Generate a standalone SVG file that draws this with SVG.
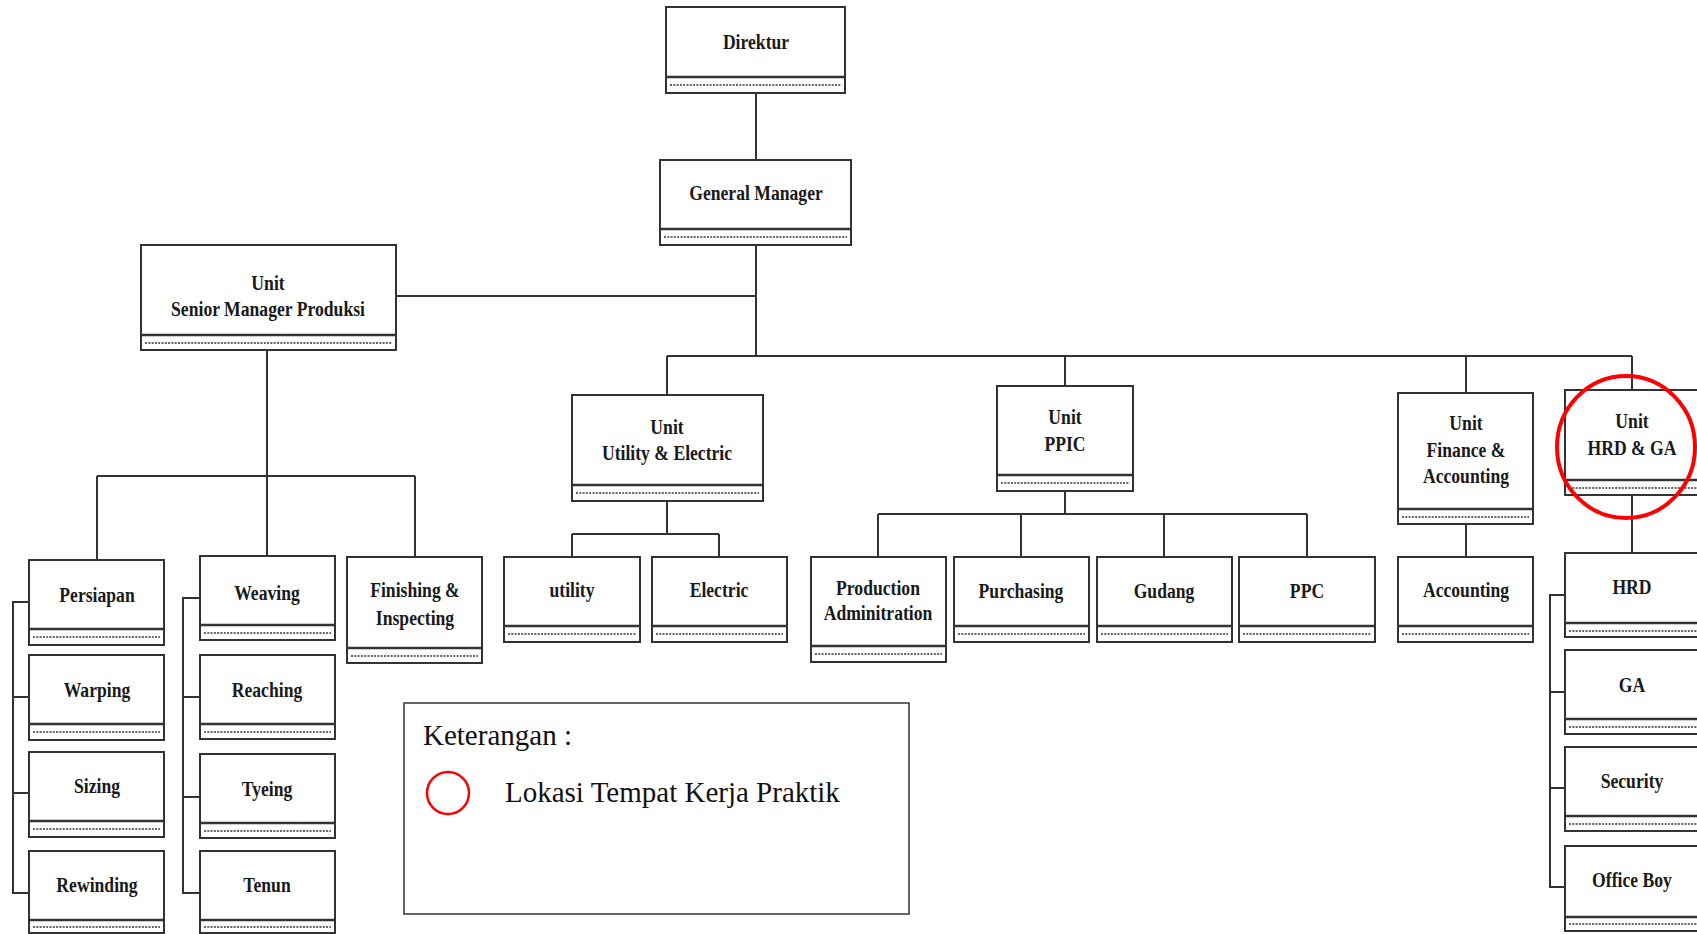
<svg xmlns="http://www.w3.org/2000/svg" width="1697" height="934" viewBox="0 0 1697 934">
<style>
.bg{fill:#fff}
.box{fill:#fff;stroke:#333;stroke-width:2}
.band{stroke:#333;stroke-width:2.5}
.dots{stroke:#666;stroke-width:1.8;stroke-dasharray:2 1.3}
.t{font-family:"Liberation Serif","Times New Roman",serif;font-weight:bold;font-size:21px;fill:#1a1a1a;text-anchor:middle}
.c{fill:none;stroke:#333;stroke-width:2}
.lg{font-family:"Liberation Serif","Times New Roman",serif;font-size:29px;fill:#111}
</style>
<rect class="bg" x="0" y="0" width="1697" height="934"/>

<g id="connectors" class="c">
<path d="M756 93V160M756 245V356M396 296H756M667 356H1632M667 356V395M1065 356V386M1466 356V393M1632 356V390"/>
<path d="M267 350V476M97 476H415M97 476V560M267 476V556M415 476V557"/>
<path d="M667 501V534M572 534H719M572 534V557M719 534V557"/>
<path d="M1065 491V514M878 514H1307M878 514V557M1021 514V557M1164 514V557M1307 514V557"/>
<path d="M1466 524V557M1632 495V553"/>
<path d="M29 602H13V893H29M13 697H29M13 793H29"/>
<path d="M200 598H183V893H200M183 697H200M183 797H200"/>
<path d="M1565 595H1550V887H1565M1550 692H1565M1550 788H1565"/>
</g>

<g id="direktur"><rect class="box" x="666" y="7" width="179" height="86"/><line class="band" x1="666" y1="77" x2="845" y2="77"/><line class="dots" x1="670" y1="85" x2="841" y2="85"/><text class="t" transform="translate(756,49) scale(0.84,1)">Direktur</text></g>
<g id="general-manager"><rect class="box" x="660" y="160" width="191" height="85"/><line class="band" x1="660" y1="229" x2="851" y2="229"/><line class="dots" x1="664" y1="237" x2="847" y2="237"/><text class="t" transform="translate(756,200) scale(0.84,1)">General Manager</text></g>
<g id="senior-manager-produksi"><rect class="box" x="141" y="245" width="255" height="105"/><line class="band" x1="141" y1="335" x2="396" y2="335"/><line class="dots" x1="145" y1="343" x2="392" y2="343"/><text class="t" transform="translate(268,290) scale(0.84,1)">Unit</text><text class="t" transform="translate(268,316) scale(0.84,1)">Senior Manager Produksi</text></g>

<g id="utility-electric"><rect class="box" x="572" y="395" width="191" height="106"/><line class="band" x1="572" y1="485" x2="763" y2="485"/><line class="dots" x1="576" y1="493" x2="759" y2="493"/><text class="t" transform="translate(667,434) scale(0.84,1)">Unit</text><text class="t" transform="translate(667,460) scale(0.84,1)">Utility &amp; Electric</text></g>
<g id="ppic"><rect class="box" x="997" y="386" width="136" height="105"/><line class="band" x1="997" y1="475" x2="1133" y2="475"/><line class="dots" x1="1001" y1="483" x2="1129" y2="483"/><text class="t" transform="translate(1065,424) scale(0.84,1)">Unit</text><text class="t" transform="translate(1065,451) scale(0.84,1)">PPIC</text></g>
<g id="finance-accounting"><rect class="box" x="1398" y="393" width="135" height="131"/><line class="band" x1="1398" y1="509" x2="1533" y2="509"/><line class="dots" x1="1402" y1="517" x2="1529" y2="517"/><text class="t" transform="translate(1466,430) scale(0.84,1)">Unit</text><text class="t" transform="translate(1466,457) scale(0.84,1)">Finance &amp;</text><text class="t" transform="translate(1466,483) scale(0.84,1)">Accounting</text></g>
<g id="hrd-ga"><rect class="box" x="1565" y="390" width="135" height="105"/><line class="band" x1="1565" y1="480" x2="1700" y2="480"/><line class="dots" x1="1569" y1="488" x2="1697" y2="488"/><text class="t" transform="translate(1632,428) scale(0.84,1)">Unit</text><text class="t" transform="translate(1632,455) scale(0.84,1)">HRD &amp; GA</text></g>

<g id="persiapan"><rect class="box" x="29" y="560" width="135" height="85"/><line class="band" x1="29" y1="629" x2="164" y2="629"/><line class="dots" x1="33" y1="637" x2="160" y2="637"/><text class="t" transform="translate(97,602) scale(0.84,1)">Persiapan</text></g>
<g id="warping"><rect class="box" x="29" y="655" width="135" height="85"/><line class="band" x1="29" y1="724" x2="164" y2="724"/><line class="dots" x1="33" y1="732" x2="160" y2="732"/><text class="t" transform="translate(97,697) scale(0.84,1)">Warping</text></g>
<g id="sizing"><rect class="box" x="29" y="752" width="135" height="85"/><line class="band" x1="29" y1="821" x2="164" y2="821"/><line class="dots" x1="33" y1="829" x2="160" y2="829"/><text class="t" transform="translate(97,793) scale(0.84,1)">Sizing</text></g>
<g id="rewinding"><rect class="box" x="29" y="851" width="135" height="82"/><line class="band" x1="29" y1="920" x2="164" y2="920"/><line class="dots" x1="33" y1="927" x2="160" y2="927"/><text class="t" transform="translate(97,892) scale(0.84,1)">Rewinding</text></g>

<g id="weaving"><rect class="box" x="200" y="556" width="135" height="84"/><line class="band" x1="200" y1="625" x2="335" y2="625"/><line class="dots" x1="204" y1="633" x2="331" y2="633"/><text class="t" transform="translate(267,600) scale(0.84,1)">Weaving</text></g>
<g id="reaching"><rect class="box" x="200" y="655" width="135" height="84"/><line class="band" x1="200" y1="724" x2="335" y2="724"/><line class="dots" x1="204" y1="732" x2="331" y2="732"/><text class="t" transform="translate(267,697) scale(0.84,1)">Reaching</text></g>
<g id="tyeing"><rect class="box" x="200" y="754" width="135" height="84"/><line class="band" x1="200" y1="823" x2="335" y2="823"/><line class="dots" x1="204" y1="831" x2="331" y2="831"/><text class="t" transform="translate(267,796) scale(0.84,1)">Tyeing</text></g>
<g id="tenun"><rect class="box" x="200" y="851" width="135" height="82"/><line class="band" x1="200" y1="920" x2="335" y2="920"/><line class="dots" x1="204" y1="927" x2="331" y2="927"/><text class="t" transform="translate(267,892) scale(0.84,1)">Tenun</text></g>

<g id="finishing-inspecting"><rect class="box" x="347" y="557" width="135" height="106"/><line class="band" x1="347" y1="648" x2="482" y2="648"/><line class="dots" x1="351" y1="656" x2="478" y2="656"/><text class="t" transform="translate(415,597) scale(0.84,1)">Finishing &amp;</text><text class="t" transform="translate(415,625) scale(0.84,1)">Inspecting</text></g>

<g id="utility"><rect class="box" x="504" y="557" width="136" height="85"/><line class="band" x1="504" y1="626" x2="640" y2="626"/><line class="dots" x1="508" y1="634" x2="636" y2="634"/><text class="t" transform="translate(572,597) scale(0.84,1)">utility</text></g>
<g id="electric"><rect class="box" x="652" y="557" width="135" height="85"/><line class="band" x1="652" y1="626" x2="787" y2="626"/><line class="dots" x1="656" y1="634" x2="783" y2="634"/><text class="t" transform="translate(719,597) scale(0.84,1)">Electric</text></g>

<g id="production-adminitration"><rect class="box" x="811" y="557" width="135" height="105"/><line class="band" x1="811" y1="646" x2="946" y2="646"/><line class="dots" x1="815" y1="654" x2="942" y2="654"/><text class="t" transform="translate(878,595) scale(0.84,1)">Production</text><text class="t" transform="translate(878,620) scale(0.84,1)">Adminitration</text></g>
<g id="purchasing"><rect class="box" x="954" y="557" width="135" height="85"/><line class="band" x1="954" y1="626" x2="1089" y2="626"/><line class="dots" x1="958" y1="634" x2="1085" y2="634"/><text class="t" transform="translate(1021,598) scale(0.84,1)">Purchasing</text></g>
<g id="gudang"><rect class="box" x="1097" y="557" width="135" height="85"/><line class="band" x1="1097" y1="626" x2="1232" y2="626"/><line class="dots" x1="1101" y1="634" x2="1228" y2="634"/><text class="t" transform="translate(1164,598) scale(0.84,1)">Gudang</text></g>
<g id="ppc"><rect class="box" x="1239" y="557" width="136" height="85"/><line class="band" x1="1239" y1="626" x2="1375" y2="626"/><line class="dots" x1="1243" y1="634" x2="1371" y2="634"/><text class="t" transform="translate(1307,598) scale(0.84,1)">PPC</text></g>

<g id="accounting"><rect class="box" x="1398" y="557" width="135" height="85"/><line class="band" x1="1398" y1="626" x2="1533" y2="626"/><line class="dots" x1="1402" y1="634" x2="1529" y2="634"/><text class="t" transform="translate(1466,597) scale(0.84,1)">Accounting</text></g>

<g id="hrd"><rect class="box" x="1565" y="553" width="135" height="84"/><line class="band" x1="1565" y1="623" x2="1700" y2="623"/><line class="dots" x1="1569" y1="631" x2="1697" y2="631"/><text class="t" transform="translate(1632,594) scale(0.84,1)">HRD</text></g>
<g id="ga"><rect class="box" x="1565" y="650" width="135" height="84"/><line class="band" x1="1565" y1="719" x2="1700" y2="719"/><line class="dots" x1="1569" y1="727" x2="1697" y2="727"/><text class="t" transform="translate(1632,692) scale(0.84,1)">GA</text></g>
<g id="security"><rect class="box" x="1565" y="747" width="135" height="84"/><line class="band" x1="1565" y1="816" x2="1700" y2="816"/><line class="dots" x1="1569" y1="824" x2="1697" y2="824"/><text class="t" transform="translate(1632,788) scale(0.84,1)">Security</text></g>
<g id="office-boy"><rect class="box" x="1565" y="846" width="135" height="85"/><line class="band" x1="1565" y1="917" x2="1700" y2="917"/><line class="dots" x1="1569" y1="924" x2="1697" y2="924"/><text class="t" transform="translate(1632,887) scale(0.84,1)">Office Boy</text></g>

<ellipse id="highlight" cx="1626" cy="447" rx="69" ry="71" fill="none" stroke="#ff0000" stroke-width="4"/>

<g id="legend">
<rect x="404" y="703" width="505" height="211" fill="#fff" stroke="#333" stroke-width="1.5"/>
<text class="lg" x="423" y="745">Keterangan :</text>
<circle cx="448" cy="793" r="21" fill="none" stroke="#ff0000" stroke-width="2.5"/>
<text class="lg" x="505" y="802">Lokasi Tempat Kerja Praktik</text>
</g>
</svg>
